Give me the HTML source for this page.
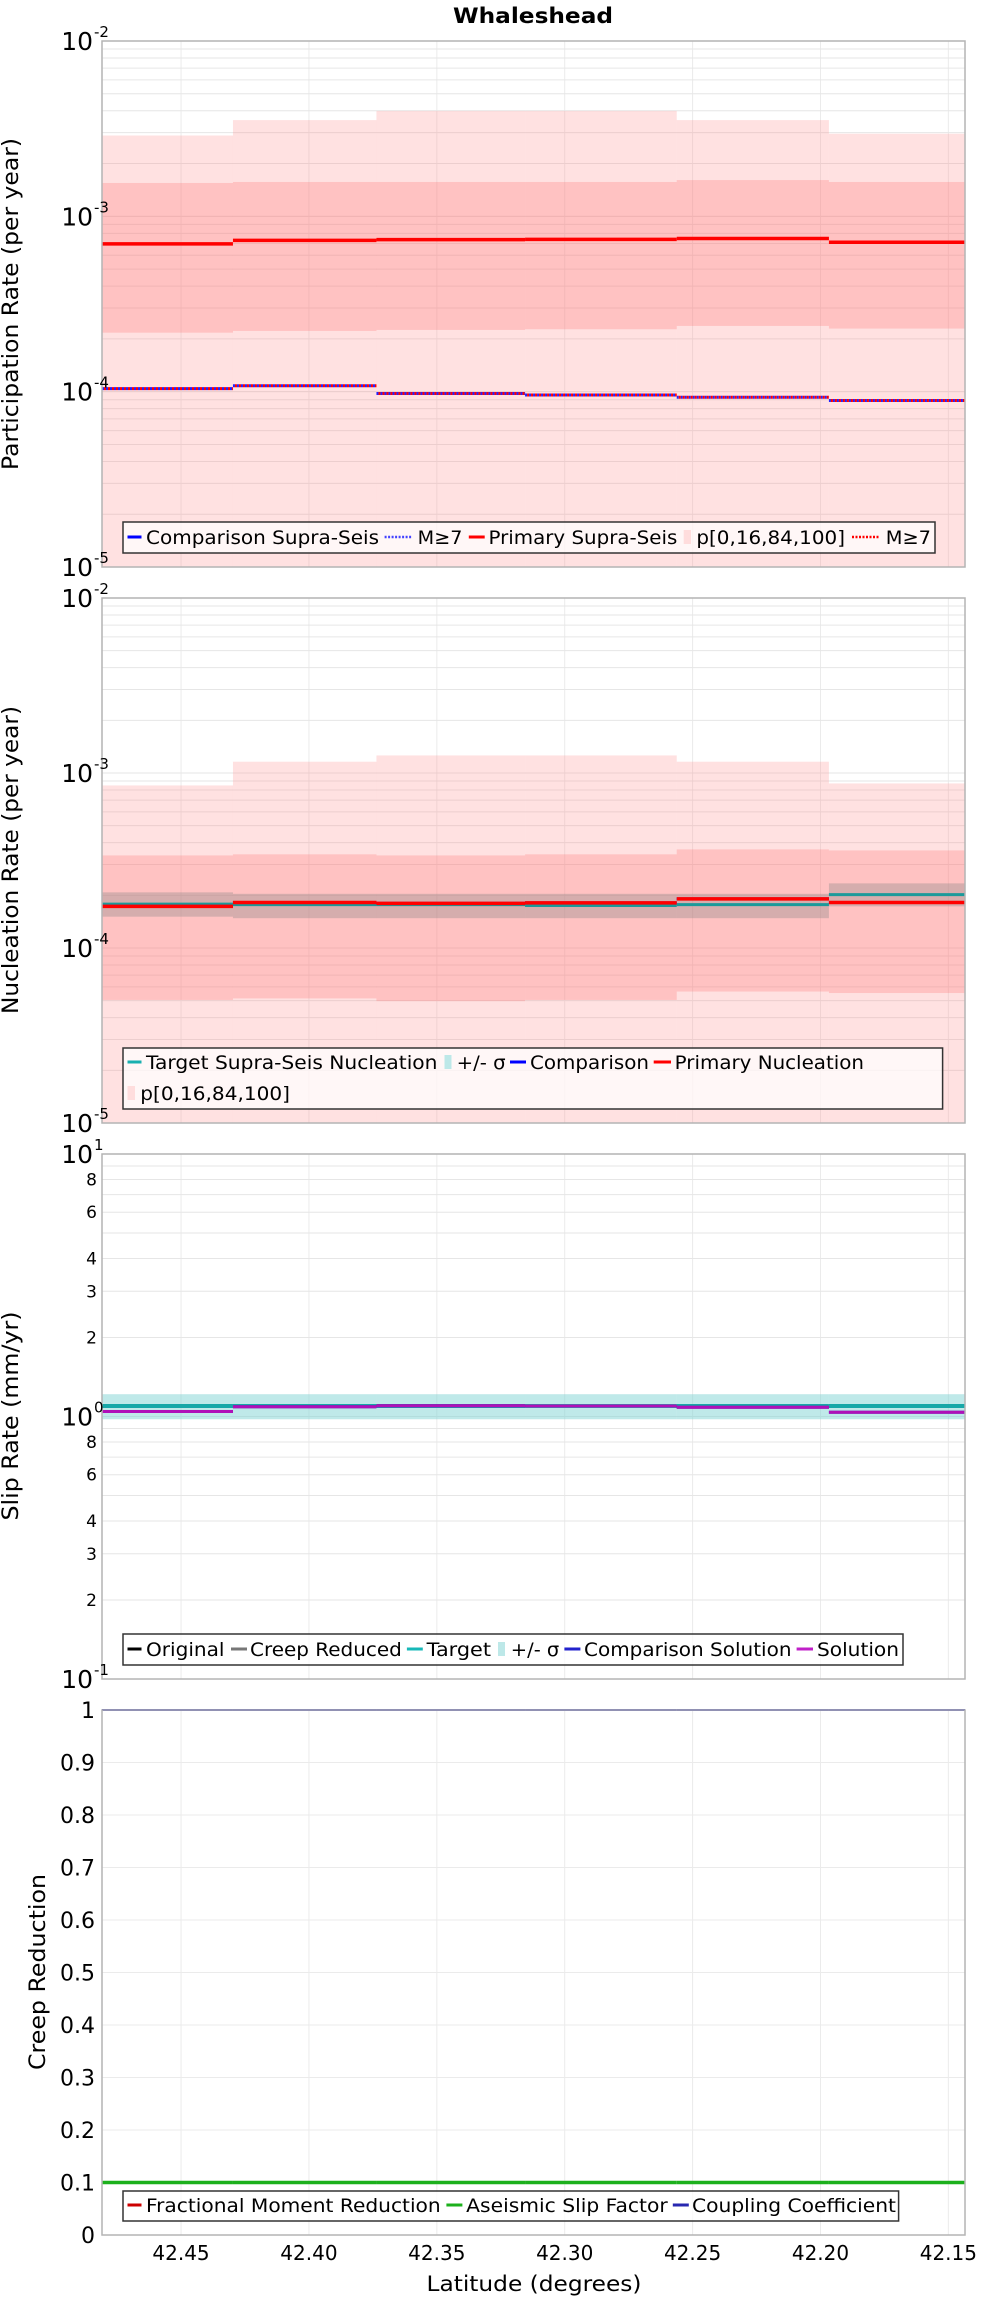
<!DOCTYPE html>
<html><head><meta charset="utf-8"><style>
html,body{margin:0;padding:0;background:#fff;}
svg{display:block;font-family:"DejaVu Sans","Liberation Sans",sans-serif;}
</style></head><body>
<svg id="chart" width="1000" height="2300" viewBox="0 0 1000 2300" xmlns="http://www.w3.org/2000/svg">
<text x="533" y="23" font-size="21" font-weight="bold" text-anchor="middle" textLength="160" lengthAdjust="spacingAndGlyphs">Whaleshead</text>
</svg>
<script>
// ---- shared x data ----
const binEdges = [42.4809, 42.4297, 42.3736, 42.3155, 42.2562, 42.1967, 42.1435];
const xTicks = [42.45, 42.40, 42.35, 42.30, 42.25, 42.20, 42.15];
const xTickLabels = ["42.45","42.40","42.35","42.30","42.25","42.20","42.15"];
// ---- panel 1: participation ----
const partOuterHi = [2.89e-3, 3.54e-3, 3.99e-3, 3.99e-3, 3.54e-3, 2.96e-3];
const partOuterLo = [1e-6, 1e-6, 1e-6, 1e-6, 1e-6, 1e-6];
const partInnerHi = [1.55e-3, 1.57e-3, 1.57e-3, 1.57e-3, 1.61e-3, 1.57e-3];
const partInnerLo = [2.17e-4, 2.22e-4, 2.25e-4, 2.27e-4, 2.37e-4, 2.29e-4];
const partPrimary = [6.97e-4, 7.29e-4, 7.36e-4, 7.39e-4, 7.48e-4, 7.11e-4];
const partM7 = [1.04e-4, 1.08e-4, 9.77e-5, 9.57e-5, 9.30e-5, 8.91e-5];
// ---- panel 2: nucleation ----
const nuclOuterHi = [8.49e-4, 1.16e-3, 1.26e-3, 1.26e-3, 1.16e-3, 8.72e-4];
const nuclOuterLo = [1e-6, 1e-6, 1e-6, 1e-6, 1e-6, 1e-6];
const nuclInnerHi = [3.38e-4, 3.43e-4, 3.38e-4, 3.43e-4, 3.66e-4, 3.61e-4];
const nuclInnerLo = [5.05e-5, 5.15e-5, 4.97e-5, 5.05e-5, 5.64e-5, 5.53e-5];
const nuclSigHi = [2.08e-4, 2.04e-4, 2.04e-4, 2.04e-4, 2.04e-4, 2.34e-4];
const nuclSigLo = [1.51e-4, 1.48e-4, 1.48e-4, 1.48e-4, 1.48e-4, 1.73e-4];
const nuclTarget = [1.78e-4, 1.77e-4, 1.77e-4, 1.75e-4, 1.77e-4, 2.02e-4];
const nuclPrimary = [1.73e-4, 1.82e-4, 1.80e-4, 1.81e-4, 1.91e-4, 1.82e-4];
// ---- panel 3: slip rate ----
const slipTarget = [1.096, 1.096, 1.096, 1.096, 1.096, 1.096];
const slipSigHi = [1.216, 1.216, 1.216, 1.216, 1.216, 1.216];
const slipSigLo = [0.976, 0.976, 0.976, 0.976, 0.976, 0.976];
const slipSolution = [1.045, 1.089, 1.099, 1.096, 1.084, 1.038];
// ---- panel 4: creep ----
const creepAseismic = [0.1, 0.1, 0.1, 0.1, 0.1, 0.1];
const creepCoupling = [1, 1, 1, 1, 1, 1];
const creepTicks = [0,0.1,0.2,0.3,0.4,0.5,0.6,0.7,0.8,0.9,1];
const creepTickLabels = ["0","0.1","0.2","0.3","0.4","0.5","0.6","0.7","0.8","0.9","1"];

const NS = "http://www.w3.org/2000/svg";
const svg = document.getElementById("chart");
const L = 102, R = 965;
function X(lat){ return L + (binEdges[0]-lat)/(binEdges[0]-binEdges[binEdges.length-1])*(R-L); }
function mk(tag, attrs, parent){
  const e = document.createElementNS(NS, tag);
  for (const k in attrs) e.setAttribute(k, attrs[k]);
  (parent||svg).appendChild(e); return e;
}
function logY(top,bot,lmin,lmax){ return v => { const lv=Math.log10(Math.max(v,1e-12)); return bot - (lv-lmin)/(lmax-lmin)*(bot-top); }; }
function linY(top,bot,mn,mx){ return v => bot - (v-mn)/(mx-mn)*(bot-top); }

function frame(g, top, bot){
  const r = mk("rect",{x:L,y:top,width:R-L,height:bot-top,fill:"#fff"},g);
  
  
}
function border(g, top, bot){
  const r = mk("rect",{x:L,y:top,width:R-L,height:bot-top,fill:"none",stroke:"#b4b4b4","stroke-width":1.5},g);
  
  
}
function vgrid(g, top, bot){
  xTicks.forEach(t => {
    const l = mk("line",{x1:X(t),x2:X(t),y1:top,y2:bot,stroke:"#ebebeb","stroke-width":1},g);
    
    
  });
}
function logGrid(g, Y, lmin, lmax){
  for (let d=lmin; d<lmax; d++){
    for (let m=1; m<=10; m++){
      const v = m*Math.pow(10,d);
      const l = mk("line",{x1:L,x2:R,y1:Y(v),y2:Y(v),stroke:"#e6e6e6","stroke-width":1},g);
      
      
    }
  }
}
function logLabels(g, Y, lmin, lmax){
  for (let d=lmin; d<=lmax; d++){
    const y = Y(Math.pow(10,d));
    const t = mk("text",{x:93,y:y+9,"font-size":25,"text-anchor":"end",fill:"#000"},g);
    t.textContent = "10";
    
    
    const s = mk("text",{x:94,y:y-4,"font-size":15,"text-anchor":"start",fill:"#000"},g);
    s.textContent = String(d);
    
    
  }
}
function steps(g, vals, Y, color, w, name, dash, offset){
  vals.forEach((v,i) => {
    const a = {x1:X(binEdges[i]),x2:X(binEdges[i+1]),y1:Y(v),y2:Y(v),stroke:color,"stroke-width":w};
    if (dash){ a["stroke-dasharray"]=dash; a["stroke-dashoffset"]=offset||0; }
    const l = mk("line",a,g);
    
    
  });
}
function band(g, hi, lo, Y, fill, op, name, top, bot){
  hi.forEach((v,i) => {
    const y1 = Math.max(top, Y(v)), y2 = Math.min(bot, Y(lo[i]));
    const r = mk("rect",{x:X(binEdges[i]),y:y1,width:X(binEdges[i+1])-X(binEdges[i]),height:y2-y1,fill:fill,"fill-opacity":op},g);
    
    
  });
}
function yTitle(g, text, cx, cy, len){
  const t = mk("text",{x:0,y:0,"font-size":22,"text-anchor":"middle",transform:`translate(${cx},${cy}) rotate(-90)`,textLength:len,lengthAdjust:"spacingAndGlyphs"},g);
  t.textContent = text;
  
  
}
function legend(g, x1, y1, x2, y2, items){
  const b = mk("rect",{x:x1,y:y1,width:x2-x1,height:y2-y1,fill:"#fff","fill-opacity":0.72,stroke:"#333","stroke-width":1.5},g);
  
  
  items.forEach(it => {
    const [type,color,sx1,sx2,tx1,tx2,label,base] = it;
    const e = mk("g",{},g);
    
    
    if (type==="sq"){
      mk("rect",{x:sx1,y:base-14,width:sx2-sx1,height:14,fill:color},e);
    } else if (type==="dot"){
      mk("line",{x1:sx1,x2:sx2,y1:base-7,y2:base-7,stroke:color,"stroke-width":2.5,"stroke-dasharray":"2 1.5"},e);
    } else {
      mk("line",{x1:sx1,x2:sx2,y1:base-7,y2:base-7,stroke:color,"stroke-width":3},e);
    }
    const t = mk("text",{x:tx1,y:base,"font-size":19,textLength:tx2-tx1,lengthAdjust:"spacingAndGlyphs"},e);
    t.textContent = label;
  });
}

// ===== Panel 1 =====
(function(){
  const top=41, bot=567; const g=mk("g",{}); 
  
  
  const Y = logY(top,bot,-5,-2);
  frame(g,top,bot); vgrid(g,top,bot); logGrid(g,Y,-5,-2);
  band(g,partOuterHi,partOuterLo,Y,"#f88",0.25,"band-p0-p100",top,bot);
  band(g,partInnerHi,partInnerLo,Y,"#f66",0.25,"band-p16-p84",top,bot);
  steps(g,partPrimary,Y,"#f00",3.5,"primary-supra-seis-line");
  steps(g,partM7,Y,"#22f",3,"comparison-m7-line","2 2",0);
  steps(g,partM7,Y,"#f00",3,"primary-m7-line","2 2",2);
  border(g,top,bot); logLabels(g,Y,-5,-2);
  yTitle(g,"Participation Rate (per year)",18,304,332);
  legend(g,123,522,935,553,[
    ["line","#00f",127.5,141.5,146,379,"Comparison Supra-Seis",544],
    ["dot","#44f",384.6,411.4,417.7,462.4,"M≥7",544],
    ["line","#f00",468.8,484.7,488.5,677.3,"Primary Supra-Seis",544],
    ["sq","#fdd",683.7,691,696.4,845,"p[0,16,84,100]",544],
    ["dot","#f00",852,880,885.8,931,"M≥7",544]
  ]);
})();

// ===== Panel 2 =====
(function(){
  const top=598, bot=1123; const g=mk("g",{});
  
  
  const Y = logY(top,bot,-5,-2);
  frame(g,top,bot); vgrid(g,top,bot); logGrid(g,Y,-5,-2);
  band(g,nuclOuterHi,nuclOuterLo,Y,"#f88",0.25,"band-p0-p100",top,bot);
  band(g,nuclInnerHi,nuclInnerLo,Y,"#f66",0.25,"band-p16-p84",top,bot);
  band(g,nuclSigHi,nuclSigLo,Y,"#888",0.35,"target-sigma-band",top,bot);
  steps(g,nuclTarget,Y,"#1a9a9a",3,"target-nucleation-line");
  steps(g,nuclPrimary,Y,"#00f",3,"comparison-nucleation-line");
  steps(g,nuclPrimary,Y,"#f00",3.5,"primary-nucleation-line");
  border(g,top,bot); logLabels(g,Y,-5,-2);
  yTitle(g,"Nucleation Rate (per year)",18,860,308);
  legend(g,123,1048,942.6,1109,[
    ["line","#1ab0b0",127.5,141.5,146,437.5,"Target Supra-Seis Nucleation",1069],
    ["sq","#bde8e8",444.5,451.5,456.6,505.7,"+/- σ",1069],
    ["line","#00f",510,526,530,649,"Comparison",1069],
    ["line","#f00",653.7,671,674.7,864,"Primary Nucleation",1069],
    ["sq","#fdd",127.5,135,140.3,290,"p[0,16,84,100]",1100]
  ]);
})();

// ===== Panel 3 =====
(function(){
  const top=1154, bot=1679; const g=mk("g",{});
  
  
  const Y = logY(top,bot,-1,1);
  frame(g,top,bot); vgrid(g,top,bot); logGrid(g,Y,-1,1);
  band(g,slipSigHi,slipSigLo,Y,"#7fd4d4",0.5,"target-sigma-band",top,bot);
  steps(g,slipTarget,Y,"#17a8a8",4,"target-slip-line");
  steps(g,slipSolution,Y,"#22a",3,"comparison-solution-line");
  steps(g,slipSolution,Y,"#b010b8",3,"solution-slip-line");
  border(g,top,bot); logLabels(g,Y,-1,1);
  [0.2,0.3,0.4,0.6,0.8,2,3,4,6,8].forEach(v => {
    const t = mk("text",{x:97,y:Y(v)+6,"font-size":17,"text-anchor":"end"},g);
    t.textContent = String(Math.round(v<1 ? v*10 : v));
    
    
  });
  yTitle(g,"Slip Rate (mm/yr)",18,1416,209);
  legend(g,123,1634,903,1665,[
    ["line","#000",127.5,141.5,146,224.5,"Original",1656],
    ["line","#777",231,247,250,401.8,"Creep Reduced",1656],
    ["line","#17b8b8",406.9,422.8,426.7,491,"Target",1656],
    ["sq","#bde8e8",498,505,510.8,559.3,"+/- σ",1656],
    ["line","#22c",564.4,580.4,584,791.5,"Comparison Solution",1656],
    ["line","#c020c8",796.6,813,817,899,"Solution",1656]
  ]);
})();

// ===== Panel 4 =====
(function(){
  const top=1710, bot=2235; const g=mk("g",{});
  
  
  const Y = linY(top,bot,0,1);
  frame(g,top,bot); vgrid(g,top,bot);
  creepTicks.forEach((v,i) => {
    const l = mk("line",{x1:L,x2:R,y1:Y(v),y2:Y(v),stroke:"#ebebeb","stroke-width":1},g);
    
    
    const t = mk("text",{x:95,y:Y(v)+8,"font-size":22,"text-anchor":"end"},g);
    t.textContent = creepTickLabels[i];
    
    
  });
  steps(g,creepAseismic,Y,"#1cb01c",3.5,"aseismic-slip-factor-line");
  steps(g,creepCoupling,Y,"#2828b0",2,"coupling-coefficient-line");
  border(g,top,bot);
  yTitle(g,"Creep Reduction",45,1972,196);
  legend(g,123,2191,898.6,2221,[
    ["line","#c00",127.5,141.5,146,440.7,"Fractional Moment Reduction",2212],
    ["line","#1cb01c",446.4,462.4,466.2,667.7,"Aseismic Slip Factor",2212],
    ["line","#2828b0",672.8,688.8,692,896,"Coupling Coefficient",2212]
  ]);
  xTicks.forEach((t,i) => {
    const e = mk("text",{x:X(t),y:2260,"font-size":20,"text-anchor":"middle"});
    e.textContent = xTickLabels[i];
    
    
  });
  const xt = mk("text",{x:534,y:2291,"font-size":21,"text-anchor":"middle",textLength:215,lengthAdjust:"spacingAndGlyphs"});
  xt.textContent = "Latitude (degrees)";
  
  
})();
</script>
</body></html>
